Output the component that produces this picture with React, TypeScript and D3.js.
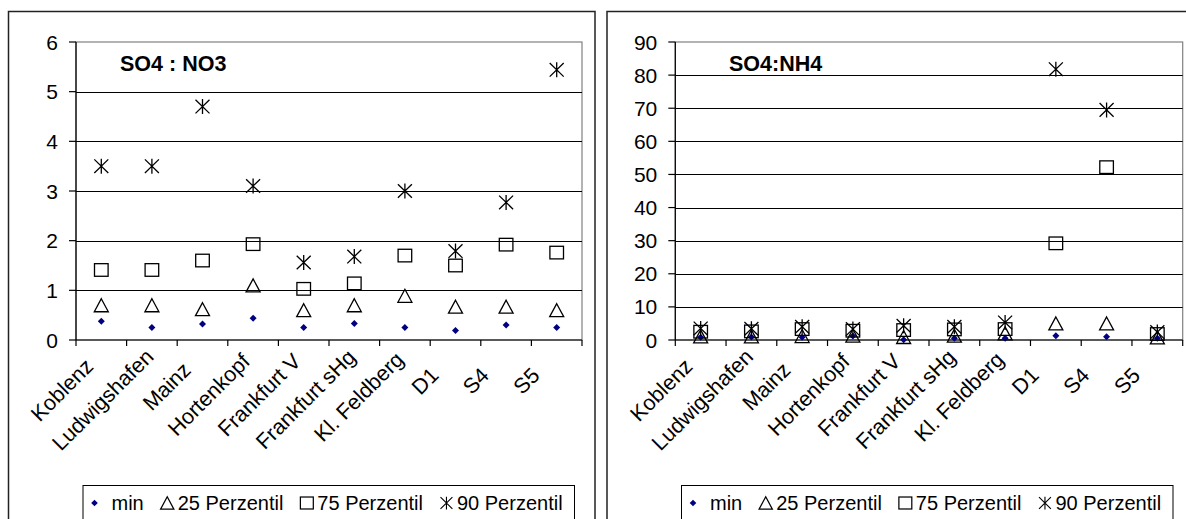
import React from 'react';
import * as d3 from 'd3';

const categories = ['Koblenz', 'Ludwigshafen', 'Mainz', 'Hortenkopf', 'Frankfurt V', 'Frankfurt sHg', 'Kl. Feldberg', 'D1', 'S4', 'S5'];

const no3Min = [0.38, 0.25, 0.32, 0.44, 0.25, 0.33, 0.25, 0.19, 0.3, 0.25];
const no3P25 = [0.7, 0.7, 0.62, 1.1, 0.6, 0.7, 0.89, 0.67, 0.67, 0.6];
const no3P75 = [1.41, 1.41, 1.6, 1.93, 1.03, 1.14, 1.7, 1.5, 1.92, 1.76];
const no3P90 = [3.5, 3.5, 4.7, 3.1, 1.56, 1.68, 3.0, 1.79, 2.77, 5.44];

const nh4Min = [0.8, 0.9, 0.8, 1.2, 0.1, 0.5, 0.5, 1.3, 1.0, 0.5];
const nh4P25 = [1.1, 1.1, 1.2, 1.3, 0.9, 1.3, 2.0, 5.0, 5.0, 0.8];
const nh4P75 = [2.5, 2.6, 3.3, 2.8, 3.0, 3.2, 3.3, 29.2, 52.2, 1.8];
const nh4P90 = [3.5, 3.4, 4.0, 3.3, 4.3, 4.0, 5.3, 81.8, 69.5, 2.4];

const no3Ticks = [0, 1, 2, 3, 4, 5, 6];
const nh4Ticks = [0, 10, 20, 30, 40, 50, 60, 70, 80, 90];

const legendLabels = ['min', '25 Perzentil', '75 Perzentil', '90 Perzentil'];

const FONT = "'Liberation Sans', Arial, Helvetica, sans-serif";
const FS_TICK = 21;
const FS_CAT = 21.5;
const FS_TITLE = 21.5;
const FS_LEG = 20;

let _ctx: CanvasRenderingContext2D | null = null;
function textW(s: string, size: number, bold = false): number {
  if (!_ctx && typeof document !== 'undefined') {
    _ctx = document.createElement('canvas').getContext('2d');
  }
  if (!_ctx) return s.length * size * 0.55;
  _ctx.font = `${bold ? 'bold ' : ''}${size}px ${FONT}`;
  return _ctx.measureText(s).width;
}

type Kind = 'min' | 'p25' | 'p75' | 'p90';

function Marker({ kind, x, y, s = 1 }: { kind: Kind; x: number; y: number; s?: number }) {
  const t = `translate(${x},${y}) scale(${s})`;
  if (kind === 'min') {
    return <path transform={t} d="M0,-3.5L3.5,0L0,3.5L-3.5,0Z" fill="#000080" />;
  }
  if (kind === 'p25') {
    return <path transform={t} d="M0,-6.5L7,6.5L-7,6.5Z" fill="none" stroke="#000" strokeWidth={1.3} />;
  }
  if (kind === 'p75') {
    return <rect transform={t} x={-6.8} y={-6.3} width={13.6} height={12.6} fill="none" stroke="#000" strokeWidth={1.3} />;
  }
  return (
    <path transform={t} d="M-7,-6.8L7,6.8M7,-6.8L-7,6.8M0,-7.5L0,7.5" fill="none" stroke="#000" strokeWidth={1.3} />
  );
}

interface PanelProps {
  frameX: number;
  frameW: number;
  x0: number;
  x1: number;
  yMax: number;
  ticks: number[];
  title: string;
  titleX: number;
  mins: number[];
  p25: number[];
  p75: number[];
  p90: number[];
}

function Panel(p: PanelProps) {
  const yTop = 42;
  const yBot = 340;
  const x = d3.scaleBand<string>().domain(categories).range([p.x0, p.x1]);
  const y = d3.scaleLinear().domain([0, p.yMax]).range([yBot, yTop]);
  const bw = x.bandwidth();
  const widths = categories.map((c) => textW(c, FS_CAT));
  const lmax = d3.max(widths) as number;

  const series: [Kind, number[]][] = [
    ['min', p.mins],
    ['p25', p.p25],
    ['p75', p.p75],
    ['p90', p.p90],
  ];

  const legLeft = p.frameX + 74.5;
  const legRight = p.frameX + 566;
  const legItems: { kind: Kind; mx: number; tx: number; label: string }[] = [];
  let cur = legLeft + 11.5;
  const kinds: Kind[] = ['min', 'p25', 'p75', 'p90'];
  kinds.forEach((k, i) => {
    const gap = i === 0 ? 17 : 10.5;
    legItems.push({ kind: k, mx: cur, tx: cur + gap, label: legendLabels[i] });
    cur = cur + gap + textW(legendLabels[i], FS_LEG) + 23.5;
  });

  return (
    <g>
      <rect x={p.frameX} y={11.5} width={p.frameW} height={540} fill="#fff" stroke="#222" strokeWidth={1.5} />
      <rect x={p.x0} y={yTop} width={p.x1 - p.x0} height={yBot - yTop} fill="none" stroke="#808080" strokeWidth={1.2} />
      {p.ticks.filter((t) => t > 0 && t < p.yMax).map((t) => (
        <line key={'g' + t} x1={p.x0} x2={p.x1} y1={Math.round(y(t)) + 0.5} y2={Math.round(y(t)) + 0.5} stroke="#000" strokeWidth={1} />
      ))}
      <line x1={p.x0} x2={p.x0} y1={yTop} y2={yBot} stroke="#000" strokeWidth={1.2} />
      {p.ticks.map((t) => (
        <g key={'yt' + t}>
          <line x1={p.x0 - 7} x2={p.x0} y1={y(t)} y2={y(t)} stroke="#000" strokeWidth={1.2} />
          <text x={p.x0 - 18} y={y(t)} dy="0.36em" textAnchor="end" fontFamily={FONT} fontSize={FS_TICK} fill="#000">
            {t}
          </text>
        </g>
      ))}
      <line x1={p.x0} x2={p.x1} y1={yBot} y2={yBot} stroke="#000" strokeWidth={1.2} />
      {d3.range(categories.length + 1).map((i) => (
        <line key={'xt' + i} x1={p.x0 + i * bw} x2={p.x0 + i * bw} y1={yBot} y2={yBot + 6} stroke="#000" strokeWidth={1.2} />
      ))}
      {categories.map((c, i) => {
        const cx = (x(c) as number) + bw / 2;
        const t = 0.25 * (lmax - widths[i]);
        const ex = cx + 3 - t * 0.707;
        const ey = 358 + t * 0.707;
        return (
          <text key={'xl' + c} transform={`translate(${ex},${ey}) rotate(-45)`} textAnchor="end" fontFamily={FONT} fontSize={FS_CAT} fill="#000">
            {c}
          </text>
        );
      })}
      <text x={p.titleX} y={71} fontFamily={FONT} fontSize={FS_TITLE} fontWeight="bold" fill="#000">
        {p.title}
      </text>
      {series.map(([k, vals]) =>
        vals.map((v, i) => (
          <Marker key={k + i} kind={k} x={(x(categories[i]) as number) + bw / 2} y={y(v)} />
        ))
      )}
      <rect x={legLeft} y={485.5} width={legRight - legLeft} height={60} fill="#fff" stroke="#000" strokeWidth={1} />
      {legItems.map((it) => (
        <g key={'lg' + it.kind}>
          <Marker kind={it.kind} x={it.mx} y={503} s={it.kind === 'p90' ? 0.85 : 0.95} />
          <text x={it.tx} y={510} fontFamily={FONT} fontSize={FS_LEG} fill="#000">
            {it.label}
          </text>
        </g>
      ))}
    </g>
  );
}

export default function App() {
  return (
    <svg width={1186} height={519} style={{ position: 'absolute', left: 0, top: 0, background: '#fff' }}>
      <rect x={0} y={0} width={1186} height={519} fill="#fff" />
      <Panel
        frameX={8.5}
        frameW={586.5}
        x0={76}
        x1={582}
        yMax={6}
        ticks={no3Ticks}
        title="SO4 : NO3"
        titleX={120}
        mins={no3Min}
        p25={no3P25}
        p75={no3P75}
        p90={no3P90}
      />
      <Panel
        frameX={607}
        frameW={600}
        x0={675.3}
        x1={1182.7}
        yMax={90}
        ticks={nh4Ticks}
        title="SO4:NH4"
        titleX={729}
        mins={nh4Min}
        p25={nh4P25}
        p75={nh4P75}
        p90={nh4P90}
      />
    </svg>
  );
}
